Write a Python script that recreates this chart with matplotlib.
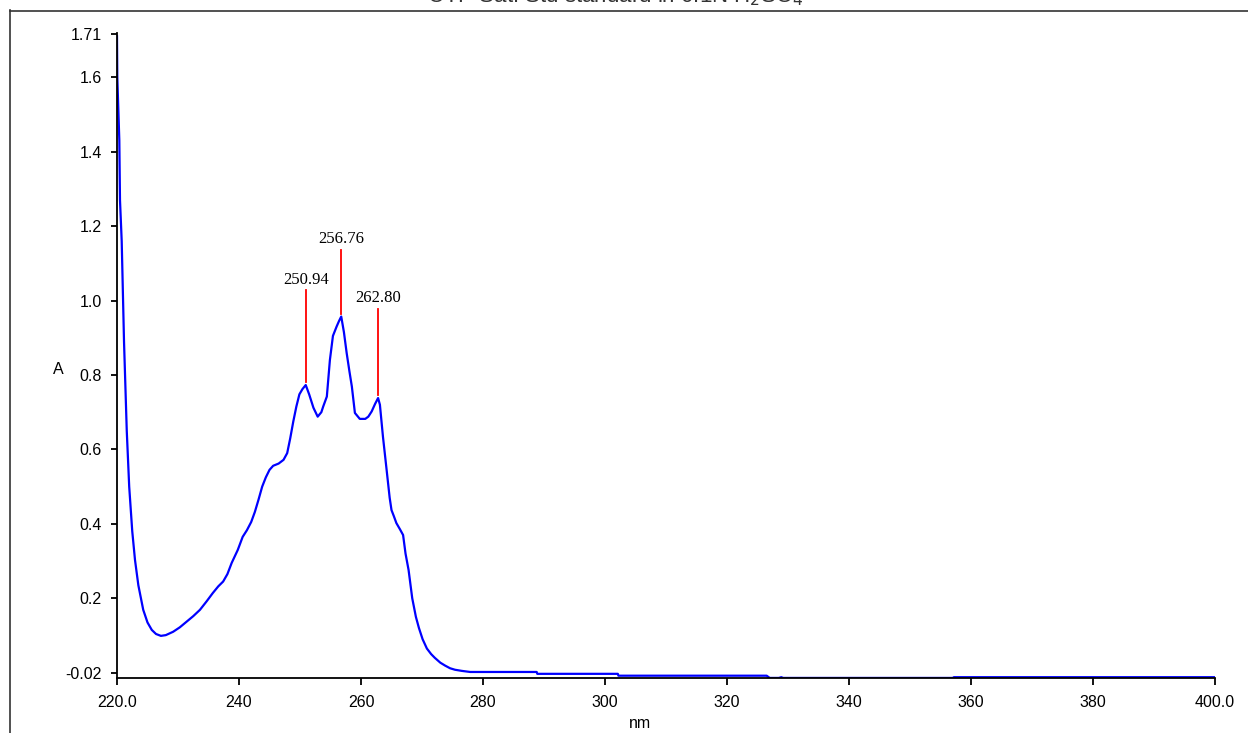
import matplotlib
matplotlib.use("Agg")
import matplotlib.pyplot as plt
from matplotlib.lines import Line2D

# ---- data ----
wavelength = [220.0, 220.05, 220.38, 220.49, 220.77, 221.15, 221.6, 222.0, 222.5, 222.95,
              223.5, 224.3, 225.0, 225.7, 226.4, 227.2, 228.0, 229.2, 230.3, 231.4,
              232.5, 233.6, 234.7, 235.7, 236.6, 237.4, 238.1, 238.8, 239.8, 240.6,
              241.3, 242.0, 242.6, 243.2, 243.8, 244.4, 245.0, 245.6, 246.5, 247.3,
              247.9, 248.4, 248.9, 249.4, 249.9, 250.4, 250.94, 251.5, 252.2, 252.9,
              253.5, 253.8, 254.4, 254.9, 255.4, 256.0, 256.4, 256.76, 257.2, 257.65,
              258.1, 258.5, 259.0, 259.8, 260.7, 261.2, 261.75, 262.3, 262.80, 263.1,
              263.6, 264.2, 264.7, 265.0, 265.4, 265.8, 266.4, 266.9, 267.3, 267.8,
              268.4, 269.0, 269.5, 270.1, 270.8, 271.5, 272.1, 273.0, 273.8, 274.6,
              275.4, 276.5, 277.9, 288.8, 288.9, 302.1, 302.2, 326.5, 327.0, 328.5,
              328.9, 329.2, 357.0, 357.2, 400.0]
absorbance = [1.71, 1.60, 1.43, 1.27, 1.16, 0.89, 0.65, 0.50, 0.38, 0.303,
              0.235, 0.169, 0.135, 0.115, 0.104, 0.099, 0.101, 0.110, 0.122, 0.137,
              0.152, 0.169, 0.192, 0.214, 0.232, 0.245, 0.265, 0.295, 0.330, 0.365,
              0.383, 0.405, 0.432, 0.465, 0.500, 0.525, 0.545, 0.556, 0.562, 0.572,
              0.590, 0.630, 0.675, 0.715, 0.748, 0.762, 0.773, 0.748, 0.712, 0.688,
              0.700, 0.715, 0.742, 0.840, 0.905, 0.930, 0.945, 0.957, 0.915, 0.859,
              0.810, 0.769, 0.698, 0.682, 0.682, 0.688, 0.702, 0.722, 0.738, 0.720,
              0.634, 0.545, 0.470, 0.437, 0.420, 0.402, 0.385, 0.370, 0.320, 0.276,
              0.200, 0.150, 0.120, 0.090, 0.065, 0.050, 0.040, 0.027, 0.019, 0.012,
              0.008, 0.005, 0.002, 0.002, -0.003, -0.003, -0.008, -0.008, -0.014, -0.014,
              -0.012, -0.014, -0.014, -0.012, -0.012]

peak_nm = [250.94, 256.76, 262.80]
peak_abs = [0.773, 0.957, 0.738]
peak_line_top = [1.027, 1.136, 0.978]
peak_labels = ["250.94", "256.76", "262.80"]

ytick_vals = [-0.001, 0.2, 0.4, 0.6, 0.8, 1.0, 1.2, 1.4, 1.6, 1.717]
ytick_labels = ["-0.02", "0.2", "0.4", "0.6", "0.8", "1.0", "1.2", "1.4", "1.6", "1.71"]
xtick_vals = [220, 240, 260, 280, 300, 320, 340, 360, 380, 400]
xtick_labels = ["220.0", "240", "260", "280", "300", "320", "340", "360", "380", "400.0"]

title_text = r"CYP Sat. Std standard in 0.1N H$_2$SO$_4$"

# ---- figure ----
W, H = 1248, 733
fig = plt.figure(figsize=(W / 100, H / 100), dpi=100)
sans = ["Liberation Sans", "DejaVu Sans"]
serif = ["Liberation Serif", "DejaVu Serif"]

ax = fig.add_axes([117 / W, 1 - 678.3 / H, (1215 - 117) / W, (678.3 - 33.3) / H])
ax.plot(wavelength, absorbance, color="#0000FF", lw=1.6)

for x0, a0, top, lab in zip(peak_nm, peak_abs, peak_line_top, peak_labels):
    ax.plot([x0, x0], [a0 + 0.008, top], color="#FF0000", lw=1.3)
    ax.text(x0, top + 0.008, lab, ha="center", va="bottom",
            family=serif, fontsize=12, color="black")

ax.set_xlim(220, 400)
ax.set_ylim(-0.015, 1.718)
ax.spines["top"].set_visible(False)
ax.spines["right"].set_visible(False)
for s in ("left", "bottom"):
    ax.spines[s].set_linewidth(1.3)
ax.set_yticks(ytick_vals)
ax.set_yticklabels(ytick_labels, family=sans, fontsize=11.5)
ax.set_xticks(xtick_vals)
ax.set_xticklabels(xtick_labels, family=sans, fontsize=11.5)
ax.tick_params(axis="y", direction="out", length=4, width=1.3, pad=7)
ax.tick_params(axis="x", direction="out", length=5, width=1.3, pad=7)

fig.text(58 / W, 1 - 369 / H, "A", ha="center", va="center", family=sans, fontsize=11.5)
fig.text(640 / W, 1 - 724 / H, "nm", ha="center", va="center", family=sans, fontsize=11.5)
fig.text(615 / W, 1 - 2 / H, title_text, ha="center", va="baseline",
         family=sans, fontsize=16, color="#333333")

# outer frame (left and top edges)
fig.add_artist(Line2D([10 / W, 10 / W], [0, 1 - 10 / H], transform=fig.transFigure,
                      color="#333333", lw=1.2))
fig.add_artist(Line2D([10 / W, 1], [1 - 10.5 / H, 1 - 10.5 / H], transform=fig.transFigure,
                      color="#333333", lw=1.2))

fig.savefig("out.png", dpi=100)
